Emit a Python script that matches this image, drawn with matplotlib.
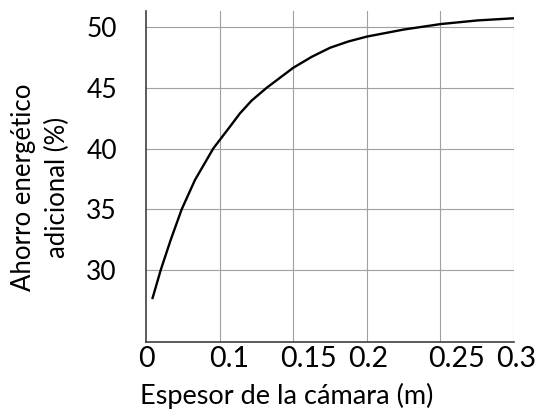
import matplotlib
matplotlib.use("Agg")
import matplotlib.pyplot as plt
import matplotlib.transforms as mtransforms

# espesor de la cámara (m) y ahorro energético adicional (%)
thickness = [0.0051, 0.012, 0.0201, 0.0291, 0.0399, 0.0548, 0.0597, 0.0684,
             0.0766, 0.0861, 0.0983, 0.120, 0.135, 0.150, 0.165, 0.180,
             0.210, 0.240, 0.270, 0.300]
saving = [27.6, 30.0, 32.47, 35.0, 37.41, 40.0, 40.65, 41.8,
          42.9, 43.95, 45.0, 46.65, 47.55, 48.3, 48.82, 49.22,
          49.8, 50.25, 50.55, 50.73]

grid_x = [0.06, 0.12, 0.18, 0.24, 0.30]
x_tick_pos = [0.0, 0.0674, 0.1328, 0.1808, 0.2533, 0.3014]
x_tick_labels = ["0", "0.1", "0.15", "0.2", "0.25", "0.3"]
y_ticks = [30, 35, 40, 45, 50]

plt.rcParams["font.family"] = ["Lato", "DejaVu Sans"]

fig = plt.figure(figsize=(5.44, 4.19), dpi=100)
ax = fig.add_axes([0.2684, 0.1838, 0.6765, 0.79])

ax.plot(thickness, saving, color="black", linewidth=1.7,
        solid_joinstyle="round", solid_capstyle="butt")

ax.set_xlim(0, 0.3)
ax.set_ylim(24.07, 51.33)
ax.set_xticks(grid_x)
ax.set_xticklabels([])
ax.set_yticks(y_ticks)
ax.grid(True, color="#a0a0a0", linewidth=0.8)
ax.set_axisbelow(True)
ax.tick_params(length=0)
ax.tick_params(axis="y", pad=21, labelsize=19)

for s in ["top", "right"]:
    ax.spines[s].set_visible(False)
for s in ["left", "bottom"]:
    ax.spines[s].set_color("#404040")
    ax.spines[s].set_linewidth(1.2)

trans = mtransforms.blended_transform_factory(ax.transData, ax.transAxes)
for x, lab in zip(x_tick_pos, x_tick_labels):
    ax.text(x, -0.012, lab, transform=trans, ha="center", va="top",
            fontsize=20.5, clip_on=False)

ax.set_xlabel("Espesor de la cámara (m)", fontsize=19.5)
ax.xaxis.set_label_coords(0.382, -0.125)
ax.set_ylabel("Ahorro energético\nadicional (%)", fontsize=18.5,
              va="center", ha="center", linespacing=1.4)
ax.yaxis.set_label_coords(-0.2867, 0.467)

fig.savefig("out.png", dpi=100)
